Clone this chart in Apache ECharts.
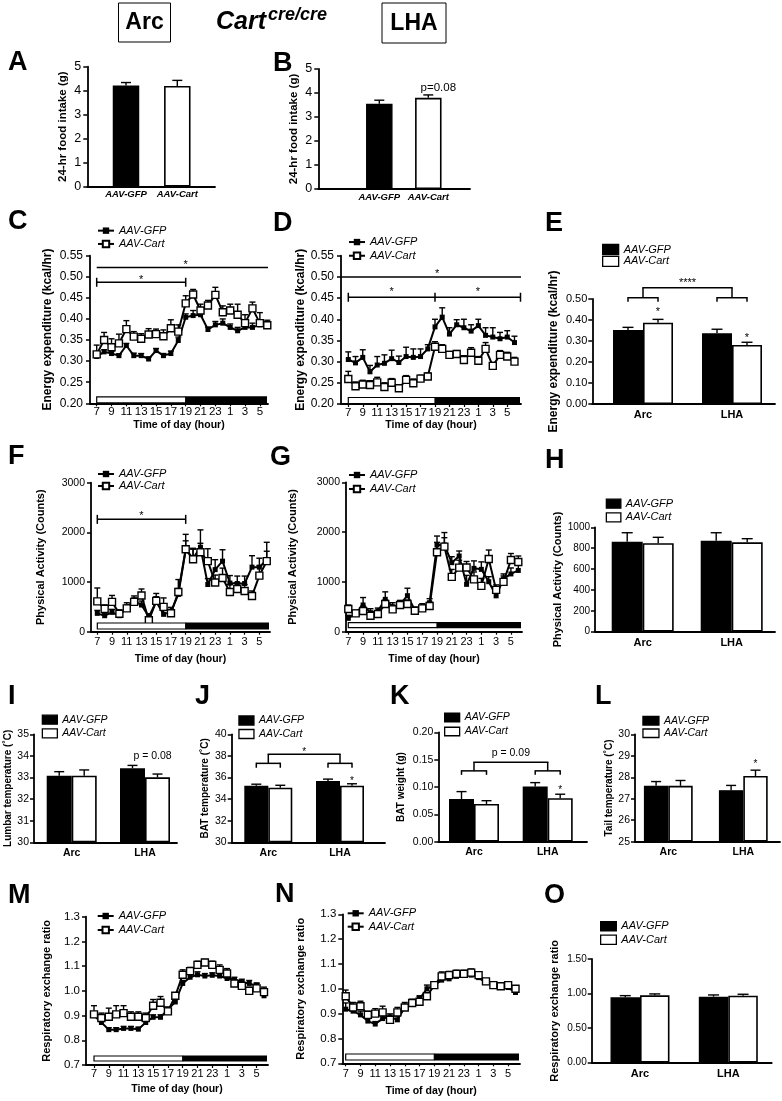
<!DOCTYPE html>
<html><head><meta charset="utf-8">
<script src="https://cdn.jsdelivr.net/npm/echarts@6.0.0/dist/echarts.min.js"></script>
<style>html,body{margin:0;padding:0;background:#fff}#c{width:782px;height:1101px}</style>
</head><body><div id="c"></div>
<script>
// ---------------- DATA ----------------
const HOURS = [7,8,9,10,11,12,13,14,15,16,17,18,19,20,21,22,23,24,25,26,27,28,29,30];
const HOUR_TICKS = [7,9,11,13,15,17,19,21,23,25,27,29];
const GROUPS = ['Arc','LHA'];
const VECTORS = ['AAV-GFP','AAV-Cart'];

// A / B : 24-hr food intake (g), [AAV-GFP, AAV-Cart]
const FOOD_ARC = [4.22, 4.20], FOOD_ARC_ERR = [0.12, 0.23];
const FOOD_LHA = [3.55, 3.80], FOOD_LHA_ERR = [0.15, 0.12];

// C : energy expenditure, Arc
const C_GFP = [0.311,0.322,0.318,0.313,0.337,0.313,0.313,0.305,0.325,0.313,0.318,0.349,0.404,0.408,0.410,0.375,0.386,0.390,0.380,0.372,0.380,0.380,0.386,0.385];
const C_GFP_ERR = [0.004,0.005,0.005,0.004,0.005,0.006,0.005,0.005,0.005,0.005,0.006,0.008,0.008,0.012,0.010,0.006,0.008,0.010,0.008,0.008,0.010,0.010,0.008,0.008];
const C_CART = [0.316,0.350,0.333,0.342,0.376,0.358,0.353,0.363,0.364,0.359,0.378,0.370,0.437,0.458,0.420,0.432,0.457,0.416,0.420,0.410,0.390,0.425,0.390,0.385];
const C_CART_ERR = [0.022,0.018,0.020,0.022,0.020,0.012,0.012,0.014,0.012,0.015,0.020,0.016,0.018,0.012,0.015,0.012,0.018,0.015,0.015,0.025,0.020,0.015,0.025,0.012];

// D : energy expenditure, LHA
const D_GFP = [0.305,0.297,0.310,0.276,0.292,0.296,0.307,0.298,0.312,0.310,0.312,0.330,0.382,0.405,0.365,0.387,0.380,0.372,0.385,0.362,0.358,0.354,0.358,0.345];
const D_GFP_ERR = [0.018,0.015,0.018,0.015,0.020,0.020,0.020,0.015,0.022,0.020,0.018,0.010,0.018,0.022,0.015,0.012,0.020,0.015,0.015,0.018,0.022,0.015,0.015,0.015];
const D_CART = [0.259,0.242,0.246,0.245,0.251,0.240,0.250,0.237,0.257,0.249,0.260,0.265,0.335,0.330,0.316,0.318,0.304,0.321,0.302,0.330,0.290,0.316,0.312,0.300];
const D_CART_ERR = [0.018,0.010,0.010,0.010,0.012,0.010,0.010,0.008,0.010,0.010,0.008,0.008,0.012,0.010,0.008,0.008,0.010,0.012,0.010,0.015,0.008,0.010,0.010,0.010];

// E : mean energy expenditure [Arc, LHA]
const EE_GFP = [0.352, 0.337], EE_GFP_ERR = [0.013, 0.019];
const EE_CART = [0.387, 0.281], EE_CART_ERR = [0.016, 0.013];

// F : physical activity, Arc
const F_GFP = [369,322,389,322,503,620,537,300,604,349,403,750,1650,1480,1700,950,1250,1420,980,970,970,1300,1300,1450];
const F_GFP_ERR = [60,50,60,60,80,100,80,60,100,80,80,120,180,200,350,120,200,230,150,150,150,230,180,350];
const F_CART = [610,460,600,360,470,600,730,230,620,500,370,800,1660,1460,1600,1420,990,1080,800,860,820,720,1130,1420];
const F_CART_ERR = [270,80,130,80,60,80,130,60,150,180,120,250,300,200,180,250,150,200,150,130,130,100,200,200];

// G : physical activity, LHA
const G_GFP = [268,368,536,382,415,650,502,549,723,435,502,583,1741,1741,1386,1520,951,1272,1252,1004,720,1060,1160,1230];
const G_GFP_ERR = [60,60,150,80,60,150,80,80,150,60,60,80,180,250,120,100,180,150,150,100,80,100,120,120];
const G_CART = [455,368,415,321,355,556,449,536,556,422,469,516,1594,1708,1100,1286,1290,1050,920,1460,840,1000,1440,1400];
const G_CART_ERR = [80,60,100,60,60,80,60,80,80,60,60,80,200,180,150,150,120,150,150,180,100,120,130,120];

// H : mean physical activity [Arc, LHA]
const PA_GFP = [862, 872], PA_GFP_ERR = [86, 76];
const PA_CART = [847, 856], PA_CART_ERR = [57, 35];

// I : lumbar temperature
const LUMBAR_GFP = [33.08, 33.43], LUMBAR_GFP_ERR = [0.19, 0.13];
const LUMBAR_CART = [33.08, 33.01], LUMBAR_CART_ERR = [0.27, 0.15];

// J : BAT temperature
const BATT_GFP = [35.24, 35.68], BATT_GFP_ERR = [0.14, 0.17];
const BATT_CART = [35.06, 35.24], BATT_CART_ERR = [0.22, 0.18];

// K : BAT weight
const BATW_GFP = [0.078, 0.1007], BATW_GFP_ERR = [0.0136, 0.0073];
const BATW_CART = [0.069, 0.0795], BATW_CART_ERR = [0.006, 0.0073];

// L : tail temperature
const TAIL_GFP = [27.6, 27.4], TAIL_GFP_ERR = [0.2, 0.22];
const TAIL_CART = [27.6, 28.06], TAIL_CART_ERR = [0.25, 0.27];

// M : RER, Arc
const M_GFP = [0.900,0.872,0.843,0.843,0.848,0.848,0.845,0.872,0.893,0.893,0.925,0.955,1.030,1.055,1.065,1.060,1.063,1.060,1.050,1.045,1.035,1.030,1.020,0.980];
const M_GFP_ERR = [0.012,0.010,0.008,0.008,0.008,0.008,0.008,0.010,0.010,0.010,0.010,0.010,0.012,0.012,0.012,0.010,0.010,0.010,0.010,0.010,0.012,0.012,0.012,0.012];
const M_CART = [0.905,0.890,0.895,0.905,0.910,0.895,0.895,0.890,0.940,0.952,0.917,0.980,1.065,1.080,1.105,1.115,1.105,1.085,1.070,1.030,1.020,1.000,1.010,0.995];
const M_CART_ERR = [0.035,0.020,0.035,0.035,0.030,0.020,0.020,0.020,0.025,0.025,0.012,0.012,0.020,0.015,0.015,0.012,0.015,0.020,0.020,0.015,0.020,0.015,0.020,0.020];

// N : RER, LHA
const N_GFP = [0.918,0.910,0.895,0.870,0.858,0.880,0.887,0.875,0.925,0.940,0.960,1.000,1.015,1.035,1.040,1.050,1.055,1.055,1.045,1.025,1.015,1.010,1.005,0.985];
const N_GFP_ERR = [0.025,0.015,0.015,0.012,0.010,0.012,0.012,0.015,0.012,0.012,0.012,0.015,0.010,0.010,0.010,0.010,0.010,0.010,0.010,0.010,0.008,0.008,0.008,0.008];
const N_CART = [0.970,0.925,0.930,0.895,0.900,0.905,0.875,0.905,0.925,0.943,0.948,0.970,1.015,1.050,1.055,1.060,1.060,1.065,1.055,1.030,1.015,1.010,1.015,1.000];
const N_CART_ERR = [0.025,0.020,0.020,0.015,0.020,0.025,0.015,0.020,0.020,0.015,0.020,0.015,0.010,0.018,0.015,0.015,0.015,0.015,0.012,0.010,0.010,0.008,0.010,0.012];

// O : mean RER
const RER_GFP = [0.945, 0.955], RER_GFP_ERR = [0.025, 0.025];
const RER_CART = [0.975, 0.970], RER_CART_ERR = [0.02, 0.02];

// ---------------- BUILD ----------------
const FONT = '"Liberation Sans", Arial, Helvetica, sans-serif';
const BLACK = '#000';
const AXW = 1.8;
const grids = [], xAxes = [], yAxes = [], series = [], legends = [];

function L(x1,y1,x2,y2,w){ return {type:'line', shape:{x1,y1,x2,y2}, style:{stroke:BLACK, lineWidth:w||1.5}}; }
function T(text,x,y,fs,weight){
  return {type:'text', style:{text, x, y, font:(weight||'normal')+' '+fs+'px '+FONT, fill:BLACK,
    align:'center', verticalAlign:'middle', textAlign:'center', textVerticalAlign:'middle'}};
}
function STAR(x,yc,fs){ fs = fs||11; return T('*', x, yc + 0.25*fs, fs); }

function errorBar(off, cap){
  return function(params, api){
    const x = api.value(0), y = api.value(1), e = api.value(2);
    const a = api.coord([x,y]), b = api.coord([x,y+e]);
    const cx = a[0] + off;
    return {type:'group', children:[L(cx,a[1],cx,b[1],1.4), L(cx-cap,b[1],cx+cap,b[1],1.4)]};
  };
}

function yAxisOf(g, p){
  return {gridIndex:g, type:'value', min:p.ymin, max:p.ymax, interval:p.yint, startValue:p.ymin,
    axisLine:{show:true, onZero:false, lineStyle:{color:BLACK, width:AXW}},
    axisTick:{show:true, length:4, lineStyle:{color:BLACK, width:1.5}},
    axisLabel:{color:BLACK, fontSize:p.yfs, fontFamily:FONT, margin:p.ylm||6,
      formatter: v => p.ydec != null ? v.toFixed(p.ydec) : String(Math.round(v))},
    splitLine:{show:false},
    name:p.yname, nameLocation:'middle', nameRotate:90, nameGap:p.yng,
    nameTextStyle:{color:BLACK, fontWeight:'bold', fontSize:p.ynfs||11, fontFamily:FONT}};
}

function legendOf(p, isBar){
  const lg = {data:[p.key+':AAV-GFP', p.key+':AAV-Cart'], orient:'vertical', left:p.lx, top:p.ly,
    padding:0, itemGap:0, itemWidth: isBar ? (p.liw||15) : 16, itemHeight: isBar ? (p.lih||9) : 8,
    selectedMode:false, formatter: n => n.slice(n.indexOf(':')+1),
    textStyle:{fontStyle:'italic', fontSize:p.lfs||11, color:BLACK, fontFamily:FONT, lineHeight:p.lsp}};
  if (isBar){ lg.icon = 'rect'; lg.itemStyle = {borderColor:BLACK, borderWidth:1.3}; }
  return lg;
}

function linePanel(p){
  const g = grids.length;
  grids.push({left:p.axisX, top:p.top, width:p.right-p.axisX, height:p.bottom-p.top});
  const unit = (p.x19 - p.x7)/12;
  const xmin = 7 + (p.axisX - p.x7)/unit, xmax = 7 + (p.right - p.x7)/unit;
  xAxes.push({gridIndex:g, type:'value', min:xmin, max:xmax,
    axisLine:{show:true, onZero:false, lineStyle:{color:BLACK, width:AXW}},
    axisTick:{show:true, customValues:HOUR_TICKS, length:3, lineStyle:{color:BLACK, width:1.2}},
    axisLabel:{customValues:HOUR_TICKS, color:BLACK, fontSize:p.xfs, fontFamily:FONT, margin:p.xlm,
      formatter: v => String(v > 24 ? v - 24 : v)},
    splitLine:{show:false},
    name:'Time of day (hour)', nameLocation:'middle', nameGap:p.xng,
    nameTextStyle:{color:BLACK, fontWeight:'bold', fontSize:10.5, fontFamily:FONT}});
  yAxes.push(yAxisOf(g, p));
  const ax = {xAxisIndex:g, yAxisIndex:g, animation:false};
  series.push(Object.assign({type:'custom', z:1, silent:true, renderItem:errorBar(0,3),
    data:HOURS.map((h,i)=>[h, p.gfp[i], p.gfpErr[i]])}, ax));
  series.push(Object.assign({type:'custom', z:1, silent:true, renderItem:errorBar(0,3),
    data:HOURS.map((h,i)=>[h, p.cart[i], p.cartErr[i]])}, ax));
  series.push(Object.assign({type:'line', name:p.key+':AAV-GFP', z:3, symbol:'rect', symbolSize:5, showAllSymbol:true,
    itemStyle:{color:BLACK}, lineStyle:{color:BLACK, width:2},
    data:HOURS.map((h,i)=>[h, p.gfp[i]])}, ax));
  series.push(Object.assign({type:'line', name:p.key+':AAV-Cart', z:4, symbol:'rect', symbolSize:7, showAllSymbol:true,
    itemStyle:{color:'#fff', borderColor:BLACK, borderWidth:1.4}, lineStyle:{color:BLACK, width:2},
    data:HOURS.map((h,i)=>[h, p.cart[i]])}, ax));
  series.push(Object.assign({type:'custom', z:5, silent:true, clip:false, data:[[7, p.ymin]],
    renderItem:(params, api) => {
      const a = api.coord([7, p.ymin]), b = api.coord([19, p.ymin]), c = api.coord([xmax, p.ymin]);
      const y0 = a[1] - p.dbGap - p.dbH;
      const ch = [
        {type:'rect', shape:{x:a[0], y:y0, width:b[0]-a[0], height:p.dbH}, style:{fill:'#fff', stroke:BLACK, lineWidth:1.2}},
        {type:'rect', shape:{x:b[0], y:y0-0.6, width:c[0]-b[0]-1, height:p.dbH+1.2}, style:{fill:BLACK}}];
      if (p.annot) ch.push(...p.annot(api, xmax, xmin));
      return {type:'group', children:ch};
    }}, ax));
  legends.push(legendOf(p, false));
}

function barPanel(p){
  const g = grids.length;
  grids.push({left:p.axisX, top:p.top, width:p.right-p.axisX, height:p.bottom-p.top});
  const unit = p.c1 - p.c0;
  xAxes.push({gridIndex:g, type:'value', min:(p.axisX - p.c0)/unit, max:(p.right - p.c0)/unit,
    axisLine:{show:true, onZero:false, lineStyle:{color:BLACK, width:AXW}},
    axisTick:{show:false},
    axisLabel:{customValues:[0,1], color:BLACK, fontSize:p.cfs, fontWeight:'bold', fontStyle:p.catItalic ? 'italic' : 'normal',
      fontFamily:FONT, margin:p.clm, formatter: v => p.cats[Math.round(v)]},
    splitLine:{show:false}});
  yAxes.push(yAxisOf(g, p));
  const ax = {xAxisIndex:g, yAxisIndex:g, animation:false};
  const single = !!p.single;
  const half = single ? 0 : p.bw/2;
  const gfpData = single ? [[0, p.gfp[0]]] : p.gfp.map((v,i)=>[i,v]);
  const cartData = single ? [[1, p.cart[0]]] : p.cart.map((v,i)=>[i,v]);
  const gfpErr = single ? [[0, p.gfp[0], p.gfpErr[0]]] : p.gfp.map((v,i)=>[i,v,p.gfpErr[i]]);
  const cartErr = single ? [[1, p.cart[0], p.cartErr[0]]] : p.cart.map((v,i)=>[i,v,p.cartErr[i]]);
  series.push(Object.assign({type:'bar', name:p.key+':AAV-GFP', barWidth:p.bw, barGap: single ? '-100%' : '0%', z:2,
    itemStyle:{color:BLACK, borderColor:BLACK, borderWidth:1.4}, data:gfpData}, ax));
  series.push(Object.assign({type:'bar', name:p.key+':AAV-Cart', barWidth:p.bw, barGap: single ? '-100%' : '0%', z:2,
    itemStyle:{color:'#fff', borderColor:BLACK, borderWidth:1.6}, data:cartData}, ax));
  series.push(Object.assign({type:'custom', z:3, silent:true, renderItem:errorBar(-half, p.cap||5.5), data:gfpErr}, ax));
  series.push(Object.assign({type:'custom', z:3, silent:true, renderItem:errorBar(half, p.cap||5.5), data:cartErr}, ax));
  if (p.annot){
    series.push(Object.assign({type:'custom', z:6, silent:true, clip:false, data:[[0, p.ymin]],
      renderItem:(params, api) => ({type:'group', children:p.annot(api, half)})}, ax));
  }
  if (p.lx != null) legends.push(legendOf(p, true));
}

function bracket(api, half, yH, yCap, yTop){
  const a = api.coord([0,yH]), l = api.coord([1,yH]);
  const cap = api.coord([0,yCap])[1], top = api.coord([0,yTop])[1];
  const out = [];
  [a,l].forEach(c => {
    out.push(L(c[0]-half, c[1], c[0]+half, c[1]), L(c[0]-half, c[1]-0.7, c[0]-half, cap),
             L(c[0]+half, c[1]-0.7, c[0]+half, cap), L(c[0], c[1], c[0], top));
  });
  out.push(L(a[0]-0.7, top, l[0]+0.7, top));
  return {out, mid:(a[0]+l[0])/2, top};
}

// ---- panels ----
barPanel({key:'A', single:true, axisX:87.3, right:215, c0:126, c1:177.3, top:66.7, bottom:186.7,
  ymin:0, ymax:5, yint:1, yfs:12.5, yname:'24-hr food intake (g)', yng:18, ynfs:11.5,
  cats:VECTORS, catItalic:true, cfs:9.5, clm:3, bw:26.5, cap:5,
  gfp:[FOOD_ARC[0]], gfpErr:[FOOD_ARC_ERR[0]], cart:[FOOD_ARC[1]], cartErr:[FOOD_ARC_ERR[1]]});

barPanel({key:'B', single:true, axisX:318.3, right:470, c0:379.3, c1:428.3, top:69, bottom:189,
  ymin:0, ymax:5, yint:1, yfs:12.5, yname:'24-hr food intake (g)', yng:18, ynfs:11.5,
  cats:VECTORS, catItalic:true, cfs:9.5, clm:3, bw:26.5, cap:5,
  gfp:[FOOD_LHA[0]], gfpErr:[FOOD_LHA_ERR[0]], cart:[FOOD_LHA[1]], cartErr:[FOOD_LHA_ERR[1]],
  annot:(api) => { const t = api.coord([1, FOOD_LHA[1] + FOOD_LHA_ERR[1]]); return [T('p=0.08', t[0]+10, t[1]-7.5, 11.5)]; }});

linePanel({key:'C', axisX:90, right:268, x7:96.7, x19:185.7, top:255.7, bottom:403.3,
  ymin:0.2, ymax:0.55, yint:0.05, ydec:2, yfs:12, ylm:7, yname:'Energy expenditure (kcal/hr)', yng:36, ynfs:12,
  xfs:11.5, xlm:3, xng:16, dbGap:0.5, dbH:6,
  gfp:C_GFP, gfpErr:C_GFP_ERR, cart:C_CART, cartErr:C_CART_ERR,
  lx:97, ly:224, lsp:13.3,
  annot:(api, xmax) => {
    const a = api.coord([7,0.522]), b = api.coord([xmax,0.522]);
    const c = api.coord([7,0.487]), d = api.coord([19,0.487]);
    return [L(a[0],a[1],b[0],b[1]), STAR(api.coord([19,0])[0], a[1]-5.6),
      L(c[0],c[1],d[0],d[1]), L(c[0],c[1]-4.5,c[0],c[1]+4.5), L(d[0],d[1]-4.5,d[0],d[1]+4.5),
      STAR((c[0]+d[0])/2, c[1]-5.3)];
  }});

linePanel({key:'D', axisX:341, right:521, x7:348.3, x19:435, top:255.7, bottom:404,
  ymin:0.2, ymax:0.55, yint:0.05, ydec:2, yfs:12, ylm:7, yname:'Energy expenditure (kcal/hr)', yng:33, ynfs:12,
  xfs:11.5, xlm:3, xng:16, dbGap:0.5, dbH:6,
  gfp:D_GFP, gfpErr:D_GFP_ERR, cart:D_CART, cartErr:D_CART_ERR,
  lx:348, ly:235.2, lsp:13.7,
  annot:(api, xmax, xmin) => {
    const a = api.coord([xmin,0.50]), b = api.coord([xmax,0.50]);
    const c = api.coord([7,0.452]), d = api.coord([19,0.452]), e = api.coord([xmax,0.452]);
    return [L(a[0],a[1],b[0],b[1]), STAR(api.coord([19.3,0])[0], a[1]-6),
      L(c[0],c[1],e[0]-0.5,e[1]), L(c[0],c[1]-4.5,c[0],c[1]+4.5), L(d[0],d[1]-4.5,d[0],d[1]+4.5), L(e[0]-0.5,e[1]-4.5,e[0]-0.5,e[1]+4.5),
      STAR((c[0]+d[0])/2, c[1]-8), STAR((d[0]+e[0])/2, c[1]-8)];
  }});

barPanel({key:'E', axisX:592.3, right:775, c0:643, c1:732, top:299, bottom:404,
  ymin:0, ymax:0.5, yint:0.1, ydec:2, yfs:11, ylm:5, yname:'Energy expenditure (kcal/hr)', yng:33, ynfs:12,
  cats:GROUPS, cfs:11, clm:5, bw:30, cap:5.5,
  gfp:EE_GFP, gfpErr:EE_GFP_ERR, cart:EE_CART, cartErr:EE_CART_ERR,
  lx:602, ly:243.6, lsp:11.8, liw:16, lih:10,
  annot:(api, half) => {
    const br = bracket(api, half, 0.506, 0.487, 0.554);
    const s1 = api.coord([0, EE_CART[0]+EE_CART_ERR[0]]), s2 = api.coord([1, EE_CART[1]+EE_CART_ERR[1]]);
    return [...br.out, T('****', br.mid, br.top-5, 11), STAR(s1[0]+half, s1[1]-10), STAR(s2[0]+half, s2[1]-7)];
  }});

linePanel({key:'F', axisX:91, right:270, x7:97.3, x19:185.7, top:482.7, bottom:631.7,
  ymin:0, ymax:3000, yint:1000, yfs:10.5, ylm:6, yname:'Physical Activity (Counts)', yng:45, ynfs:11,
  xfs:11, xlm:5, xng:22, dbGap:2.7, dbH:6,
  gfp:F_GFP, gfpErr:F_GFP_ERR, cart:F_CART, cartErr:F_CART_ERR,
  lx:97, ly:468, lsp:12,
  annot:(api) => {
    const c = api.coord([7,2262]), d = api.coord([19,2262]);
    return [L(c[0],c[1],d[0],d[1]), L(c[0],c[1]-4.5,c[0],c[1]+4.5), L(d[0],d[1]-4.5,d[0],d[1]+4.5),
      STAR((c[0]+d[0])/2, c[1]-6)];
  }});

linePanel({key:'G', axisX:346, right:522, x7:348.3, x19:437, top:482.3, bottom:631.7,
  ymin:0, ymax:3000, yint:1000, yfs:10.5, ylm:6, yname:'Physical Activity (Counts)', yng:48, ynfs:11,
  xfs:11, xlm:5, xng:22, dbGap:4, dbH:5,
  gfp:G_GFP, gfpErr:G_GFP_ERR, cart:G_CART, cartErr:G_CART_ERR,
  lx:348, ly:468, lsp:14});

barPanel({key:'H', axisX:595, right:775, c0:642.7, c1:731.7, top:527.3, bottom:631.7,
  ymin:0, ymax:1000, yint:200, yfs:10, ylm:5, yname:'Physical Activity (Counts)', yng:31, ynfs:11,
  cats:GROUPS, cfs:11, clm:6, bw:31, cap:5.5,
  gfp:PA_GFP, gfpErr:PA_GFP_ERR, cart:PA_CART, cartErr:PA_CART_ERR,
  lx:605.7, ly:496.9, lsp:13.6, liw:14.5, lih:9});

barPanel({key:'I', axisX:34, right:177, c0:71.7, c1:145, top:734.3, bottom:842.3,
  ymin:30, ymax:35, yint:1, yfs:10.5, ylm:5, yname:'Lumbar temperature (˚C)', yng:20, ynfs:10,
  cats:GROUPS, cfs:10.5, clm:5, bw:25, cap:5,
  gfp:LUMBAR_GFP, gfpErr:LUMBAR_GFP_ERR, cart:LUMBAR_CART, cartErr:LUMBAR_CART_ERR,
  lx:41.7, ly:712.9, lsp:13.6, liw:15, lih:9, lfs:10.5,
  annot:(api) => { const t = api.coord([1, LUMBAR_GFP[1]+LUMBAR_GFP_ERR[1]]); return [T('p = 0.08', t[0]+7.5, t[1]-9.6, 10.5)]; }});

barPanel({key:'J', axisX:231.7, right:385, c0:268.3, c1:340, top:734.3, bottom:842.3,
  ymin:30, ymax:40, yint:2, yfs:10.5, ylm:5, yname:'BAT temperature (˚C)', yng:21, ynfs:10,
  cats:GROUPS, cfs:10.5, clm:5, bw:24, cap:5,
  gfp:BATT_GFP, gfpErr:BATT_GFP_ERR, cart:BATT_CART, cartErr:BATT_CART_ERR,
  lx:238.3, ly:713.75, lsp:13.5, liw:15, lih:9, lfs:10.5,
  annot:(api, half) => {
    const br = bracket(api, half, 37.31, 36.9, 38.15);
    const s = api.coord([1, BATT_CART[1]+BATT_CART_ERR[1]]);
    return [...br.out, STAR(br.mid, br.top-5, 10), STAR(s[0]+half, s[1]-5.4, 10)];
  }});

barPanel({key:'K', axisX:438.3, right:587, c0:474, c1:547.7, top:732.3, bottom:841.7,
  ymin:0, ymax:0.2, yint:0.05, ydec:2, yfs:10.5, ylm:5, yname:'BAT weight (g)', yng:32, ynfs:10,
  cats:GROUPS, cfs:10.5, clm:5, bw:25, cap:5,
  gfp:BATW_GFP, gfpErr:BATW_GFP_ERR, cart:BATW_CART, cartErr:BATW_CART_ERR,
  lx:444, ly:710.5, lsp:14, liw:15, lih:8.5, lfs:10.5,
  annot:(api, half) => {
    const br = bracket(api, half, 0.1295, 0.1222, 0.1454);
    const s = api.coord([1, BATW_CART[1]+BATW_CART_ERR[1]]);
    return [...br.out, T('p = 0.09', br.mid, br.top-9, 10.5), STAR(s[0]+half, s[1]-6.6, 10)];
  }});

barPanel({key:'L', axisX:635, right:780, c0:668.3, c1:743.3, top:734.3, bottom:841.7,
  ymin:25, ymax:30, yint:1, yfs:10.5, ylm:5, yname:'Tail temperature (˚C)', yng:21, ynfs:10,
  cats:GROUPS, cfs:10.5, clm:5, bw:24.4, cap:5,
  gfp:TAIL_GFP, gfpErr:TAIL_GFP_ERR, cart:TAIL_CART, cartErr:TAIL_CART_ERR,
  lx:642.3, ly:714.5, lsp:12.5, liw:16, lih:8.5, lfs:10.5,
  annot:(api, half) => { const s = api.coord([1, TAIL_CART[1]+TAIL_CART_ERR[1]]); return [STAR(s[0]+half, s[1]-8.3, 10)]; }});

linePanel({key:'M', axisX:86, right:268, x7:94, x19:182.7, top:916.7, bottom:1065,
  ymin:0.7, ymax:1.3, yint:0.1, ydec:1, yfs:11.5, ylm:6, yname:'Respiratory exchange ratio', yng:34, ynfs:11,
  xfs:11, xlm:3, xng:19, dbGap:4, dbH:5,
  gfp:M_GFP, gfpErr:M_GFP_ERR, cart:M_CART, cartErr:M_CART_ERR,
  lx:96.7, ly:909, lsp:14});

linePanel({key:'N', axisX:342.3, right:520, x7:345.7, x19:434.3, top:914.3, bottom:1063.3,
  ymin:0.7, ymax:1.3, yint:0.1, ydec:1, yfs:11.5, ylm:6, yname:'Respiratory exchange ratio', yng:36, ynfs:11,
  xfs:11, xlm:5, xng:22, dbGap:3.3, dbH:6,
  gfp:N_GFP, gfpErr:N_GFP_ERR, cart:N_CART, cartErr:N_CART_ERR,
  lx:346.7, ly:906.6, lsp:13.4});

barPanel({key:'O', axisX:591.7, right:771.7, c0:640, c1:728.3, top:959, bottom:1062.7,
  ymin:0, ymax:1.5, yint:0.5, ydec:2, yfs:10, ylm:5, yname:'Respiratory exchange ratio', yng:31, ynfs:11,
  cats:GROUPS, cfs:11, clm:6, bw:29.5, cap:5.5,
  gfp:RER_GFP, gfpErr:RER_GFP_ERR, cart:RER_CART, cartErr:RER_CART_ERR,
  lx:600, ly:919.6, lsp:13.4, liw:15.7, lih:9.3});

// ---- header & panel letters ----
const LETTERS = [['A',8,62.5],['B',273,63.8],['C',8,222],['D',273,224],['E',545,223.5],
  ['F',8,457],['G',270,458],['H',545,461],['I',8,697],['J',195,697],['K',390,697],['L',595,697],
  ['M',8,896],['N',275,895],['O',544,896]];
const gtext = (text, x, y, font, align) => ({type:'text', x:0, y:0, silent:true,
  style:{text, x, y, font, fill:BLACK, align:align||'left', verticalAlign:'middle', textAlign:align||'left', textVerticalAlign:'middle'}});
const graphics = [
  {type:'rect', silent:true, shape:{x:118.5, y:3, width:52, height:39}, style:{fill:'none', stroke:BLACK, lineWidth:1}},
  gtext('Arc', 144.5, 23, 'bold 23px '+FONT, 'center'),
  gtext('Cart', 216, 22.5, 'italic bold 25px '+FONT, 'left'),
  gtext('cre/cre', 268, 15, 'italic bold 18px '+FONT, 'left'),
  {type:'rect', silent:true, shape:{x:382, y:3, width:64, height:40}, style:{fill:'none', stroke:BLACK, lineWidth:1}},
  gtext('LHA', 414, 23.5, 'bold 23px '+FONT, 'center')
].concat(LETTERS.map(l => gtext(l[0], l[1], l[2], 'bold 27px '+FONT, 'left')));

const chart = echarts.init(document.getElementById('c'), null, {renderer:'canvas'});
chart.setOption({
  animation:false,
  backgroundColor:'#fff',
  textStyle:{fontFamily:FONT},
  grid:grids, xAxis:xAxes, yAxis:yAxes, series:series, legend:legends,
  graphic:{elements:graphics}
});
</script>
</body></html>
